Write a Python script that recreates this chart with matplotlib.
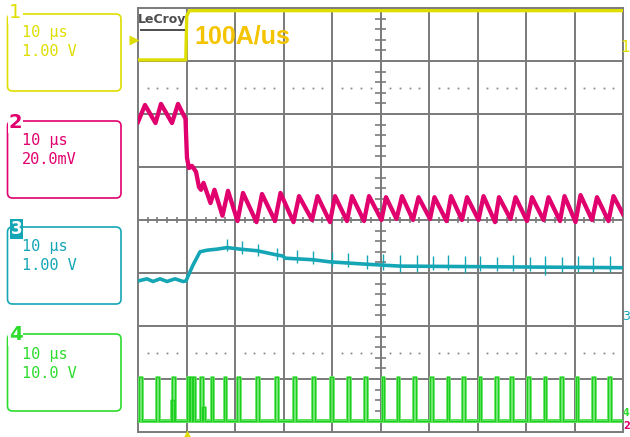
import numpy as np
import matplotlib
matplotlib.use('Agg')
import matplotlib.pyplot as plt
from matplotlib.patches import FancyBboxPatch

W, H = 630, 437

# ---------------- data: time in µs, vertical position in screen divisions ----------------
ch1_t = [0, 9.85, 10.05, 10.6, 100]
ch1_v = [3.02, 3.02, 3.85, 3.95, 3.95]

ch2_t = [0, 1.44, 3.61, 4.74, 7.01, 8.25, 9.79, 10.10, 10.52, 11.13, 11.96, 12.58, 12.99,
         13.51, 14.95, 15.77, 17.42, 18.56, 20.52, 21.65, 24.43, 25.57, 28.25, 29.38,
         32.06, 33.20, 35.88, 37.01, 39.59, 40.62, 43.09, 44.12, 46.60, 47.63, 50.21,
         51.13, 53.30, 54.43, 56.70, 57.84, 60.21, 61.13, 63.61, 64.54, 66.80, 67.84,
         70.21, 71.24, 73.61, 74.43, 76.80, 77.84, 80.21, 81.24, 83.61, 84.64, 87.01,
         87.94, 90.21, 91.24, 93.61, 94.64, 97.01, 98.04, 100]
ch2_v = [1.85, 2.17, 1.83, 2.19, 1.83, 2.19, 1.91, 1.17, 0.98, 1.02, 0.91, 0.62, 0.57,
         0.70, 0.32, 0.57, 0.08, 0.55, -0.02, 0.51, -0.04, 0.49, -0.02, 0.51,
         -0.04, 0.45, 0.00, 0.45, -0.04, 0.45, -0.02, 0.45, -0.02, 0.45, 0.00,
         0.43, 0.02, 0.45, 0.00, 0.43, 0.02, 0.43, -0.02, 0.45, 0.00, 0.43,
         0.00, 0.45, -0.04, 0.43, 0.02, 0.43, -0.02, 0.43, 0.00, 0.43, -0.02,
         0.45, -0.04, 0.47, 0.00, 0.43, -0.02, 0.45, 0.11]

ch3_t = [0, 1.86, 3.09, 4.54, 5.98, 7.63, 9.28, 9.90, 10.31, 11.34, 12.78, 14.23, 16.29,
         18.35, 21.03, 24.54, 28.66, 29.90, 30.31, 36.08, 39.59, 46.39, 50.10, 54.02, 100]
ch3_v = [-1.15, -1.11, -1.16, -1.11, -1.16, -1.11, -1.16, -1.15, -1.06, -0.85, -0.60,
         -0.57, -0.55, -0.52, -0.55, -0.58, -0.66, -0.68, -0.72, -0.75, -0.79, -0.83,
         -0.85, -0.87, -0.90]
ch3_spike_t = [18.35, 21.44, 24.74, 28.66, 32.78, 36.08, 40.0, 43.30, 47.22, 50.52, 54.02,
               57.53, 60.82, 63.92, 67.42, 70.52, 74.02, 77.32, 80.82, 83.92, 87.42, 90.72,
               93.81, 97.32]
ch3_spike_top = [-0.36, -0.40, -0.45, -0.53, -0.57, -0.58, -0.60, -0.62, -0.66, -0.64, -0.66,
                 -0.66, -0.68, -0.66, -0.68, -0.68, -0.70, -0.66, -0.70, -0.68, -0.70, -0.68,
                 -0.70, -0.68]
ch3_spike_bot = [-0.58, -0.64, -0.68, -0.75, -0.81, -0.83, -0.87, -0.89, -0.92, -0.94, -0.98,
                 -0.98, -0.94, -0.94, -1.00, -0.96, -0.96, -0.96, -0.96, -1.04, -0.98, -0.98,
                 -0.98, -0.98]

ch4_pulse_t = [0.21, 3.71, 6.80, 7.11, 10.2, 10.6, 11.24, 12.78, 13.2, 14.95, 17.63, 20.41,
               24.43, 28.25, 32.06, 35.88, 39.59, 43.09, 46.60, 50.21, 53.30, 56.70, 60.21,
               63.61, 66.80, 70.21, 73.61, 76.80, 80.21, 83.61, 87.01, 90.21, 93.61, 97.01]
ch4_pulse_top = [-2.97, -2.97, -3.40, -2.97, -2.97, -2.97, -2.97, -2.97, -3.53, -2.97, -2.97,
                 -2.97, -2.97, -2.97, -2.97, -2.97, -2.97, -2.97, -2.97, -2.97, -2.97, -2.97,
                 -2.97, -2.97, -2.97, -2.97, -2.97, -2.97, -2.97, -2.97, -2.97, -2.97, -2.97,
                 -2.97]
ch4_pulse_width = 0.55
ch4_low = -3.79

channel_ids = ["1", "2", "3", "4"]
channel_time = ["10 µs", "10 µs", "10 µs", "10 µs"]
channel_scale = ["1.00 V", "20.0mV", "1.00 V", "10.0 V"]
annotation = "100A/us"

# ---------------- styling ----------------
YEL = '#dede00'
PINK = '#e0006e'
CYAN = '#15a6b6'
GREEN = '#2ddc2d'
GRID = '#7a7a7a'

fig = plt.figure(figsize=(W / 100, H / 100), dpi=100, facecolor='white')

L, R, T, B = 138, 623, 8, 432
ax = fig.add_axes([L / W, (H - B) / H, (R - L) / W, (B - T) / H])
ax.set_xlim(0, 100)
ax.set_ylim(-4, 4)
ax.set_xticks([])
ax.set_yticks([])
for s in ax.spines.values():
    s.set_color(GRID)
    s.set_linewidth(1.4)

# graticule
for x in range(10, 100, 10):
    ax.axvline(x, color=GRID, lw=1.4, zorder=1)
for y in range(-3, 4):
    ax.axhline(y, color=GRID, lw=1.4, zorder=1)
minor_t = [t for t in np.arange(2, 100, 2) if t % 10 != 0]
minor_v = [v for v in np.round(np.arange(-3.8, 4.0, 0.2), 2) if abs(v - round(v)) > 1e-6]
ax.vlines(minor_t, -0.065, 0.065, color=GRID, lw=1.2, zorder=1)
ax.hlines(minor_v, 48.8, 51.2, color=GRID, lw=1.2, zorder=1)
for yd in (2.5, -2.5):
    ax.plot(minor_t, [yd] * len(minor_t), ls='none', marker='s', ms=1.3,
            mfc='#8a8a8a', mec='none', zorder=1)

# channel 4 (green)
g_t, g_v = [0], [ch4_low]
for tp, top in zip(ch4_pulse_t, ch4_pulse_top):
    g_t += [tp, tp, tp + ch4_pulse_width, tp + ch4_pulse_width]
    g_v += [ch4_low, top, top, ch4_low]
g_t.append(100)
g_v.append(ch4_low)
ax.plot([0, 100], [ch4_low, ch4_low], color=GREEN, lw=2.6, zorder=3, solid_capstyle='butt')
ax.plot(g_t, g_v, color='#6fe86f', lw=2.0, zorder=3)
ax.plot(g_t, g_v, color='#1fcf1f', lw=0.9, zorder=3)

# channel 3 (cyan)
ax.vlines(ch3_spike_t, ch3_spike_bot, ch3_spike_top, color=CYAN, lw=1.0, zorder=4)
ax.plot(ch3_t, ch3_v, color=CYAN, lw=2.6, zorder=4)

# channel 2 (pink)
ax.plot(ch2_t, ch2_v, color=PINK, lw=3.1, zorder=5)

# channel 1 (yellow)
ax.plot(ch1_t, ch1_v, color=YEL, lw=2.4, zorder=6)

# ---------------- overlay in pixel coordinates ----------------
ov = fig.add_axes([0, 0, 1, 1], zorder=10)
ov.set_xlim(0, W)
ov.set_ylim(H, 0)
ov.axis('off')
ov.patch.set_alpha(0)

boxes = [(14, 91, YEL, 13, 33, 52), (121, 198, PINK, 122, 141, 159),
         (227, 304, CYAN, 229, 247, 266), (334, 411, GREEN, 335, 354, 373)]
for i, (y0, y1, col, ylab, yt1, yt2) in enumerate(boxes):
    ov.add_patch(FancyBboxPatch((7.5, y0), 113.5, y1 - y0,
                                boxstyle="round,pad=0,rounding_size=5",
                                fc='none', ec=col, lw=1.2))
    if i == 2:
        ov.text(16.5, ylab, channel_ids[i], color='white', fontsize=12, fontweight='bold',
                ha='center', va='center', family='DejaVu Sans',
                bbox=dict(facecolor=CYAN, edgecolor='none', pad=0.6))
    else:
        ov.text(15.5, ylab, channel_ids[i], color=col, fontsize=14,
                fontweight='bold' if i else 'normal',
                ha='center', va='center', family='DejaVu Sans',
                bbox=dict(facecolor='white', edgecolor='none', pad=0.8))
    ov.text(22, yt1, channel_time[i], color=col, fontsize=11, family='DejaVu Sans Mono',
            ha='left', va='center')
    ov.text(22, yt2, channel_scale[i], color=col, fontsize=11, family='DejaVu Sans Mono',
            ha='left', va='center')

# LeCroy logo
ov.text(162.5, 20, "LeCroy", color='#4d4d4d', fontsize=9, fontweight='bold',
        family='DejaVu Sans', ha='center', va='center')
ov.plot([141, 184], [30, 30], color='#4d4d4d', lw=1.4)

# annotation
ov.text(194, 37, annotation, color='#f5c400', fontsize=18, fontweight='bold',
        family='Liberation Sans', ha='left', va='center')

# markers
ov.plot([134], [40], marker='>', ms=7, color=YEL, mec='none')
ov.plot([187], [436], marker='^', ms=9, color=YEL, mec='none', clip_on=False)
ov.text(629.5, 48, "1", color=YEL, fontsize=11, ha='right', va='center', family='DejaVu Sans')
ov.text(629.5, 316, "3", color=CYAN, fontsize=9, ha='right', va='center', family='DejaVu Sans')
ov.text(629.5, 413, "4", color=GREEN, fontsize=7, fontweight='bold', ha='right', va='center',
        family='DejaVu Sans')
ov.text(629.5, 426, "2", color=PINK, fontsize=7, fontweight='bold', ha='right', va='center',
        family='DejaVu Sans')

fig.savefig('out.png', dpi=100, facecolor='white')
